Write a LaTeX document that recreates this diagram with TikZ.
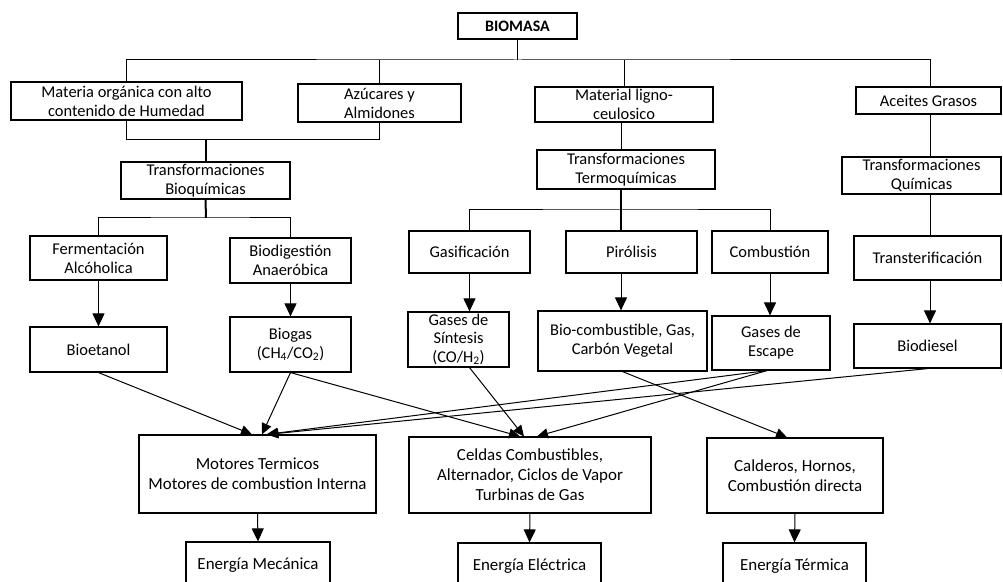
\documentclass[tikz,border=0pt]{standalone}
\usepackage{fontspec}
\setmainfont{Carlito}
\usetikzlibrary{arrows.meta}
\tikzset{
  box/.style={draw=black, line width=1.2bp, inner sep=0pt, align=center, font=\fontsize{16.5}{19}\selectfont},
  bigbox/.style={box, font=\fontsize{17}{20}\selectfont},
  link/.style={line width=1bp},
  heavy/.style={line width=2bp},
  arr/.style={line width=1bp, -{Triangle[length=13bp,width=12bp]}},
  xarr/.style={line width=1bp, -{Triangle[length=11bp,width=10bp]}},
}
\begin{document}
\begin{tikzpicture}[x=1bp,y=-1bp]
\useasboundingbox (0,0) rectangle (1003,582);
\fill[white] (0,0) rectangle (1003,582);
\clip (0,0) rectangle (1003,582);

% helper coordinates
\coordinate (tx) at (621,0);
\coordinate (qx) at (930,0);
\coordinate (bus1) at (517.5,60);
\coordinate (bus2) at (206,140);
\coordinate (bus3) at (206,218);
\coordinate (bus4) at (621,210);

% level 0
\node[box, minimum width=119bp, minimum height=26bp, font=\bfseries\fontsize{16}{18}\selectfont] (biomasa) at (517.5,26) {BIOMASA};

% level 1
\node[box, minimum width=231bp, minimum height=38bp] (materia) at (126.5,101) {Materia orgánica con alto\\contenido de Humedad};
\node[box, minimum width=163bp, minimum height=38bp] (azucar) at (379.5,103) {Azúcares y\\Almidones};
\node[box, minimum width=178bp, minimum height=35bp] (ligno) at (624,104.5) {Material ligno-\\ceulosico};
\node[box, minimum width=145bp, minimum height=27bp] (aceites) at (928.5,100.5) {Aceites Grasos};

% level 2
\node[box, minimum width=169bp, minimum height=37bp] (bioq) at (205.5,180.5) {Transformaciones\\Bioquímicas};
\node[box, minimum width=178bp, minimum height=39bp] (termo) at (626,169.5) {Transformaciones\\Termoquímicas};
\node[box, minimum width=159bp, minimum height=37bp] (quimicas) at (921.5,175.5) {Transformaciones\\Químicas};

% level 3
\node[box, minimum width=137bp, minimum height=44bp] (ferm) at (98.5,258) {Fermentación\\Alcóholica};
\node[box, minimum width=121bp, minimum height=45bp] (biodig) at (290.5,260.5) {Biodigestión\\Anaeróbica};
\node[box, minimum width=121bp, minimum height=42bp] (gasif) at (469.5,252) {Gasificación};
\node[box, minimum width=131bp, minimum height=42bp] (piro) at (631.5,252) {Pirólisis};
\node[box, minimum width=116bp, minimum height=42bp] (comb) at (770,252) {Combustión};
\node[box, minimum width=147bp, minimum height=44bp] (trans) at (927.5,258) {Transterificación};

% level 4
\node[box, minimum width=137bp, minimum height=45bp] (bioet) at (98.5,349.5) {Bioetanol};
\node[box, minimum width=121bp, minimum height=55bp] (biogas) at (290.5,344.5) {Biogas\\(CH\textsubscript{4}/CO\textsubscript{2})};
\node[box, minimum width=101bp, minimum height=55bp, font=\fontsize{16.5}{18.5}\selectfont] (gases) at (458.5,339.5) {Gases de\\Síntesis\\(CO/H\textsubscript{2})};
\node[box, minimum width=169bp, minimum height=60bp] (biocomb) at (622.5,341) {Bio-combustible, Gas,\\Carbón Vegetal};
\node[box, minimum width=118bp, minimum height=54bp] (escape) at (771,343) {Gases de\\Escape};
\node[box, minimum width=147bp, minimum height=44bp] (biodiesel) at (927.5,346) {Biodiesel};

% level 5
\node[bigbox, minimum width=237bp, minimum height=78bp] (motores) at (257.5,474) {Motores Termicos\\Motores de combustion Interna};
\node[bigbox, minimum width=242bp, minimum height=76bp] (celdas) at (530,475) {Celdas Combustibles,\\Alternador, Ciclos de Vapor\\Turbinas de Gas};
\node[bigbox, minimum width=176bp, minimum height=75bp] (calderos) at (795,475.5) {Calderos, Hornos,\\Combustión directa};

% level 6
\node[bigbox, minimum width=144bp, minimum height=46bp] (emec) at (258,565) {Energía Mecánica};
\node[bigbox, minimum width=143bp, minimum height=46bp] (eelec) at (529.5,566) {Energía Eléctrica};
\node[bigbox, minimum width=143bp, minimum height=46bp] (eterm) at (794.5,566) {Energía Térmica};

% tree connectors
\draw[link] (biomasa.south) -- (bus1);
\draw[link] (materia.north) |- (bus1) -| (aceites.north -| qx);
\draw[link] (azucar.north) -- (azucar.north |- bus1);
\draw[link] (ligno.north) -- (ligno.north |- bus1);

\draw[link] (materia.south) |- (azucar.south |- bus2) -- (azucar.south);
\draw[heavy] (bioq.north) -- (bioq.north |- bus2);
\draw[heavy] (bioq.south) -- (bus3);
\draw[link] (ferm.north) |- (bus3) -| (biodig.north);

\draw[link] (ligno.south -| tx) -- (termo.north -| tx);
\draw[heavy] (termo.south -| tx) -- (piro.north -| tx);
\draw[link] (gasif.north) |- (bus4) -| (comb.north);

\draw[link] (aceites.south -| qx) -- (quimicas.north -| qx);
\draw[link] (quimicas.south -| qx) -- (trans.north -| qx);

% vertical arrows
\draw[arr] (ferm.south) -- (bioet.north);
\draw[arr] (biodig.south) -- (biogas.north);
\draw[arr] (gasif.south) -- (gasif.south |- gases.north);
\draw[arr] (piro.south -| tx) -- (biocomb.north -| tx);
\draw[arr] (comb.south) -- (comb.south |- escape.north);
\draw[arr] (trans.south -| qx) -- (biodiesel.north -| qx);
\draw[arr] (motores.south) -- (emec.north);
\draw[arr] (celdas.south) -- (eelec.north);
\draw[arr] (calderos.south) -- (eterm.north);

% crossing arrows
\draw[xarr] (bioet.south) -- ([xshift=-5.5bp]motores.north);
\draw[xarr] (biogas.south) -- ([xshift=4.5bp]motores.north);
\draw[xarr] (biogas.south) -- ([xshift=-10bp]celdas.north);
\draw[xarr] (gasif.south |- gases.south) -- ([xshift=-6bp]celdas.north);
\draw[xarr] (biocomb.south) -- ([xshift=-8bp]calderos.north);
\draw[xarr] ([xshift=-4bp]escape.south) -- ([xshift=9bp]motores.north);
\draw[xarr] ([xshift=-4bp]escape.south) -- ([xshift=7bp]celdas.north);
\draw[xarr] (biodiesel.south) -- ([xshift=10bp]motores.north);
\end{tikzpicture}
\end{document}
